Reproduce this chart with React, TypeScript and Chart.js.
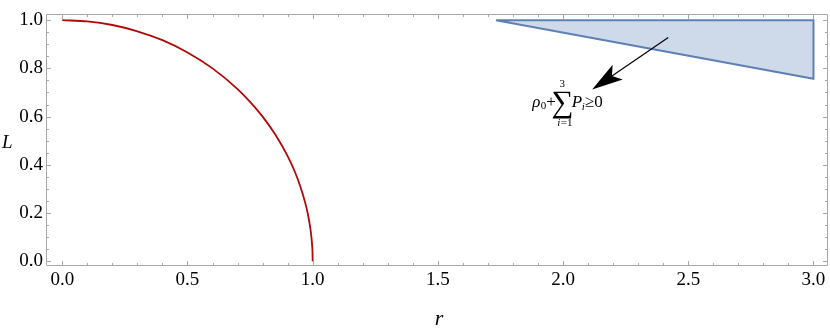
import React, { useEffect, useRef } from "react";
import { Chart, registerables } from "chart.js";

Chart.register(...registerables);

// ---- data ----
const curveR = [0, 0.1, 0.2, 0.3, 0.4, 0.5, 0.6, 0.7, 0.75, 0.8, 0.85, 0.9, 0.93, 0.95, 0.97, 0.98, 0.99, 0.995, 0.998, 0.9995, 1.0];
const curveL = [1.0, 0.995, 0.98, 0.954, 0.917, 0.866, 0.8, 0.714, 0.661, 0.6, 0.527, 0.436, 0.368, 0.312, 0.243, 0.199, 0.141, 0.1, 0.063, 0.032, 0.0];

const regionR = [1.732, 3.0, 3.0, 1.732];
const regionL = [1.0, 1.0, 0.757, 1.0];

const xTickValues = [0, 0.5, 1.0, 1.5, 2.0, 2.5, 3.0];
const yTickValues = [0, 0.2, 0.4, 0.6, 0.8, 1.0];
const xMinorStep = 0.1;
const yMinorStep = 0.05;

const xRange = [-0.065, 3.058];
const yRange = [-0.02, 1.024];

const arrowFrom = [2.42, 0.928];
const arrowTo = [2.116, 0.712];
const formulaAt = [1.877, 0.64];

const xTitle = "r";
const yTitle = "L";

const SERIF = "'Liberation Serif', 'Times New Roman', serif";
const FRAME = "#a8a8a8";

function minorList(lo: number, hi: number, step: number) {
  const out: number[] = [];
  const n = Math.round((hi - lo) / step);
  for (let i = 0; i <= n; i++) out.push(+(lo + i * step).toFixed(4));
  return out;
}

const framePlugin = {
  id: "mframe",
  beforeDatasetsDraw(chart: any) {
    const { ctx, chartArea: a, scales } = chart;
    const xs = scales.x;
    const ys = scales.y;
    ctx.save();
    ctx.strokeStyle = FRAME;
    ctx.lineWidth = 1;
    const L = Math.round(a.left) + 0.5;
    const R = Math.round(a.right) - 0.5;
    const T = Math.round(a.top) + 0.5;
    const B = Math.round(a.bottom) - 0.5;
    ctx.beginPath();
    ctx.rect(L, T, R - L, B - T);
    ctx.stroke();
    const majorLen = 4.5;
    const minorLen = 2.5;
    const isMajor = (v: number, arr: number[]) => arr.some((m) => Math.abs(m - v) < 1e-6);
    ctx.beginPath();
    for (const v of minorList(0, 3, xMinorStep)) {
      const px = Math.round(xs.getPixelForValue(v)) + 0.5;
      const len = isMajor(v, xTickValues) ? majorLen : minorLen;
      ctx.moveTo(px, B);
      ctx.lineTo(px, B - len);
      ctx.moveTo(px, T);
      ctx.lineTo(px, T + len);
    }
    for (const v of minorList(0, 1, yMinorStep)) {
      const py = Math.round(ys.getPixelForValue(v)) + 0.5;
      const len = isMajor(v, yTickValues) ? majorLen : minorLen;
      ctx.moveTo(L, py);
      ctx.lineTo(L + len, py);
      ctx.moveTo(R, py);
      ctx.lineTo(R - len, py);
    }
    ctx.stroke();
    ctx.restore();
  },
  afterDatasetsDraw(chart: any) {
    const { ctx, chartArea: a, scales } = chart;
    const xs = scales.x;
    const ys = scales.y;
    ctx.save();
    // arrow
    const tx = xs.getPixelForValue(arrowFrom[0]);
    const ty = ys.getPixelForValue(arrowFrom[1]);
    const hx = xs.getPixelForValue(arrowTo[0]);
    const hy = ys.getPixelForValue(arrowTo[1]);
    const dx = tx - hx;
    const dy = ty - hy;
    const len = Math.hypot(dx, dy);
    const ux = dx / len;
    const uy = dy / len;
    const px = -uy;
    const py = ux;
    const headLen = 31;
    const halfW = 9;
    const notch = 24;
    ctx.strokeStyle = "#000";
    ctx.lineWidth = 1.2;
    ctx.beginPath();
    ctx.moveTo(tx, ty);
    ctx.lineTo(hx + ux * notch, hy + uy * notch);
    ctx.stroke();
    ctx.fillStyle = "#000";
    ctx.beginPath();
    ctx.moveTo(hx, hy);
    ctx.lineTo(hx + ux * headLen + px * halfW, hy + uy * headLen + py * halfW);
    ctx.lineTo(hx + ux * notch, hy + uy * notch);
    ctx.lineTo(hx + ux * headLen - px * halfW, hy + uy * headLen - py * halfW);
    ctx.closePath();
    ctx.fill();

    // formula  rho_0 + sum_{i=1}^{3} P_i >= 0
    const x0 = xs.getPixelForValue(formulaAt[0]);
    const b = ys.getPixelForValue(formulaAt[1]);
    ctx.fillStyle = "#000";
    ctx.textBaseline = "alphabetic";
    ctx.textAlign = "left";
    ctx.font = `italic 17px ${SERIF}`;
    ctx.fillText("\u03C1", x0, b);
    ctx.font = `11px ${SERIF}`;
    ctx.fillText("0", x0 + 8.5, b + 2.5);
    ctx.font = `17px ${SERIF}`;
    ctx.fillText("+", x0 + 14, b);
    ctx.textAlign = "center";
    ctx.textBaseline = "alphabetic";
    ctx.font = `31px ${SERIF}`;
    ctx.fillText("\u2211", x0 + 30, b + 5);
    ctx.textBaseline = "middle";
    ctx.font = `11px ${SERIF}`;
    ctx.fillText("3", x0 + 30, b - 23);
    ctx.textAlign = "left";
    ctx.font = `italic 11px ${SERIF}`;
    ctx.fillText("i", x0 + 25, b + 16.5);
    ctx.font = `11px ${SERIF}`;
    ctx.fillText("=1", x0 + 28.5, b + 16.5);
    ctx.textBaseline = "alphabetic";
    ctx.font = `italic 17px ${SERIF}`;
    ctx.fillText("P", x0 + 39.5, b);
    ctx.font = `italic 11px ${SERIF}`;
    ctx.fillText("i", x0 + 49.5, b + 3);
    ctx.font = `17px ${SERIF}`;
    ctx.fillText("\u2265", x0 + 52.5, b);
    ctx.fillText("0", x0 + 62, b);

    // axis titles
    ctx.textAlign = "center";
    ctx.textBaseline = "alphabetic";
    ctx.font = `italic 22px ${SERIF}`;
    ctx.fillText(xTitle, (a.left + a.right) / 2 + 2, chart.height - 5);
    ctx.textAlign = "left";
    ctx.font = `italic 19px ${SERIF}`;
    ctx.fillText(yTitle, 2, (a.top + a.bottom) / 2 + 8);
    ctx.restore();
  },
};

export default function App() {
  const ref = useRef<HTMLCanvasElement | null>(null);
  useEffect(() => {
    document.body.style.margin = "0";
    const canvas = ref.current;
    if (!canvas) return;
    const chart = new Chart(canvas, {
      type: "scatter",
      data: {
        datasets: [
          {
            data: regionR.map((r, i) => ({ x: r, y: regionL[i] })),
            showLine: true,
            borderColor: "rgb(94,129,181)",
            backgroundColor: "rgba(94,129,181,0.3)",
            borderWidth: 2,
            pointRadius: 0,
            fill: "shape",
            tension: 0,
          },
          {
            data: curveR.map((r, i) => ({ x: r, y: curveL[i] })),
            showLine: true,
            borderColor: "rgb(178,8,8)",
            borderWidth: 1.8,
            pointRadius: 0,
            fill: false,
            cubicInterpolationMode: "monotone",
          },
        ],
      } as any,
      options: {
        animation: false,
        responsive: false,
        devicePixelRatio: 1,
        layout: { padding: { top: 5, right: 2, left: 0, bottom: 0 } },
        plugins: { legend: { display: false }, tooltip: { enabled: false } },
        scales: {
          x: {
            type: "linear",
            min: xRange[0],
            max: xRange[1],
            afterBuildTicks: (s: any) => {
              s.ticks = xTickValues.map((v) => ({ value: v }));
            },
            afterFit: (s: any) => {
              s.height = 64;
            },
            grid: { display: false, drawTicks: false },
            border: { display: false },
            ticks: {
              padding: 3,
              color: "#000",
              autoSkip: false,
              maxRotation: 0,
              font: { family: SERIF, size: 19 },
              callback: (v: any) => Number(v).toFixed(1),
            },
          },
          y: {
            type: "linear",
            min: yRange[0],
            max: yRange[1],
            afterBuildTicks: (s: any) => {
              s.ticks = yTickValues.map((v) => ({ value: v }));
            },
            afterFit: (s: any) => {
              s.width = 46;
            },
            grid: { display: false, drawTicks: false },
            border: { display: false },
            ticks: {
              padding: 3,
              color: "#000",
              autoSkip: false,
              font: { family: SERIF, size: 19 },
              callback: (v: any) => Number(v).toFixed(1),
            },
          },
        },
      } as any,
      plugins: [framePlugin],
    });
    return () => chart.destroy();
  }, []);
  return (
    <div style={{ width: 830, height: 330 }}>
      <canvas ref={ref} width={830} height={330} style={{ display: "block" }} />
    </div>
  );
}
